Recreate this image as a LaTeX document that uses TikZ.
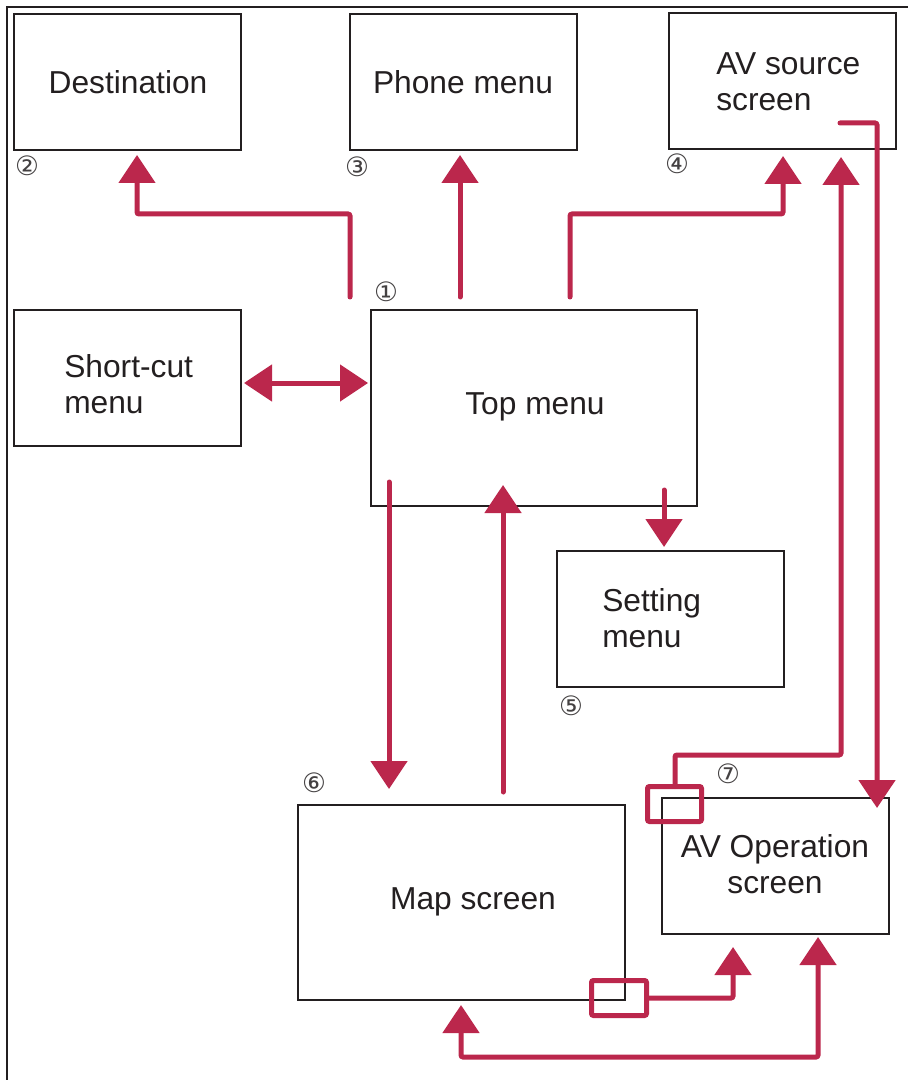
\documentclass[tikz,border=0pt]{standalone}
\usepackage{fontspec}
\setmainfont{Liberation Sans}
\newfontfamily\symfont{DejaVu Sans}
\usetikzlibrary{arrows.meta}
\definecolor{arrred}{RGB}{187,39,76}
\definecolor{boxline}{RGB}{35,31,32}
\begin{document}
\begin{tikzpicture}[x=0.75pt,y=-0.75pt,
  box/.style={draw=boxline, line width=2.2pt, inner sep=0pt, minimum width=170.25pt, minimum height=102pt},
  lbl/.style={font=\fontsize{23.8}{27}\selectfont, text=boxline, inner sep=0pt},
  num/.style={font=\symfont\fontsize{20}{20}\selectfont, text=boxline!85, inner sep=0pt},
  conn/.style={draw=arrred, line width=3.75pt, line cap=round, rounded corners=1.5pt},
  tip/.style={-{Triangle[width=27pt,length=21pt]}},
  tips/.style={{Triangle[width=27pt,length=21pt]}-{Triangle[width=27pt,length=21pt]}},
  redbox/.style={draw=arrred, line width=3.75pt, rounded corners=1.5pt}]
\useasboundingbox (0,0) rectangle (908,1080);
% frame
\draw[draw=boxline, line width=2.2pt] (7,1080) -- (7,7) -- (908,7);

% boxes
\node[box] (dest) at (127.5,82) {};
\node[box] (phone) at (463.5,82) {};
\node[box] (avsrc) at (782.5,81) {};
\node[box] (short) at (127.5,378) {};
\node[box, minimum width=244.5pt, minimum height=147pt] (top) at (534,408) {};
\node[box] (setting) at (670.5,619) {};
\node[box, minimum width=245.25pt, minimum height=146.25pt] (map) at (461.5,902.5) {};
\node[box] (avop) at (775.5,866) {};

% labels
\node[lbl] (tdest) at (128,82) {Destination};
\node[lbl] (tphone) at (463,82) {Phone menu};
\node[lbl, anchor=west, align=left] (tavsrc) at (716,82) {AV source\\screen};
\node[lbl, anchor=west, align=left] (tshort) at (64,384) {Short-cut\\menu};
\node[lbl] (ttop) at (535,407) {Top menu};
\node[lbl, anchor=west, align=left] (tsetting) at (602,618) {Setting\\menu};
\node[lbl] (tmap) at (473,902) {Map screen};
\node[lbl, align=center] (tavop) at (775,864) {AV Operation\\screen};

% circled numbers
\node[num] (n1) at (386,292) {①};
\node[num] (n2) at (27,166) {②};
\node[num] (n3) at (357,167) {③};
\node[num] (n4) at (677,164) {④};
\node[num] (n5) at (571,706) {⑤};
\node[num] (n6) at (314,783) {⑥};
\node[num] (n7) at (728,774) {⑦};

% connector end points
\coordinate (a1s) at (350,297);
\coordinate (a1e) at (137,155);
\coordinate (a2s) at (460,297);
\coordinate (a2e) at (460,155);
\coordinate (a3s) at (570,297);
\coordinate (a3e) at (783,156);
\coordinate (a6s) at (244,383);
\coordinate (a6e) at (368,383);
\coordinate (a7s) at (389,482);
\coordinate (a7e) at (389,789);
\coordinate (a8s) at (503,792);
\coordinate (a8e) at (503,485);
\coordinate (a9s) at (664,490);
\coordinate (a9e) at (664,547);
\coordinate (a5s) at (840,123);
\coordinate (a5e) at (877,808);
\coordinate (a4e) at (841,157);
\coordinate (a10e) at (733,947);
\coordinate (a11s) at (461,1005);
\coordinate (a11e) at (818,937);

% small red rectangles
\draw[redbox] (647.5,786.5) rectangle (701.5,821.5);
\coordinate (rA) at (675,786.5);
\draw[redbox] (591.5,980.5) rectangle (646.5,1015.5);
\coordinate (rB) at (646.5,998);

% connectors
\draw[conn, tip] (a1s) -- (350,214) -- (137,214) -- (a1e);
\draw[conn, tip] (a2s) -- (a2e);
\draw[conn, tip] (a3s) -- (570,214) -- (783,214) -- (a3e);
\draw[conn, tips] (a6s) -- (a6e);
\draw[conn, tip] (a7s) -- (a7e);
\draw[conn, tip] (a8s) -- (a8e);
\draw[conn, tip] (a9s) -- (a9e);
\draw[conn, tip] (a5s) -- (877,123) -- (a5e);
\draw[conn, tip] (rA) -- (675,755) -- (841,755) -- (a4e);
\draw[conn, tip] (rB) -- (733,998) -- (a10e);
\draw[conn, tips] (a11s) -- (461,1057) -- (818,1057) -- (a11e);
\end{tikzpicture}
\end{document}
